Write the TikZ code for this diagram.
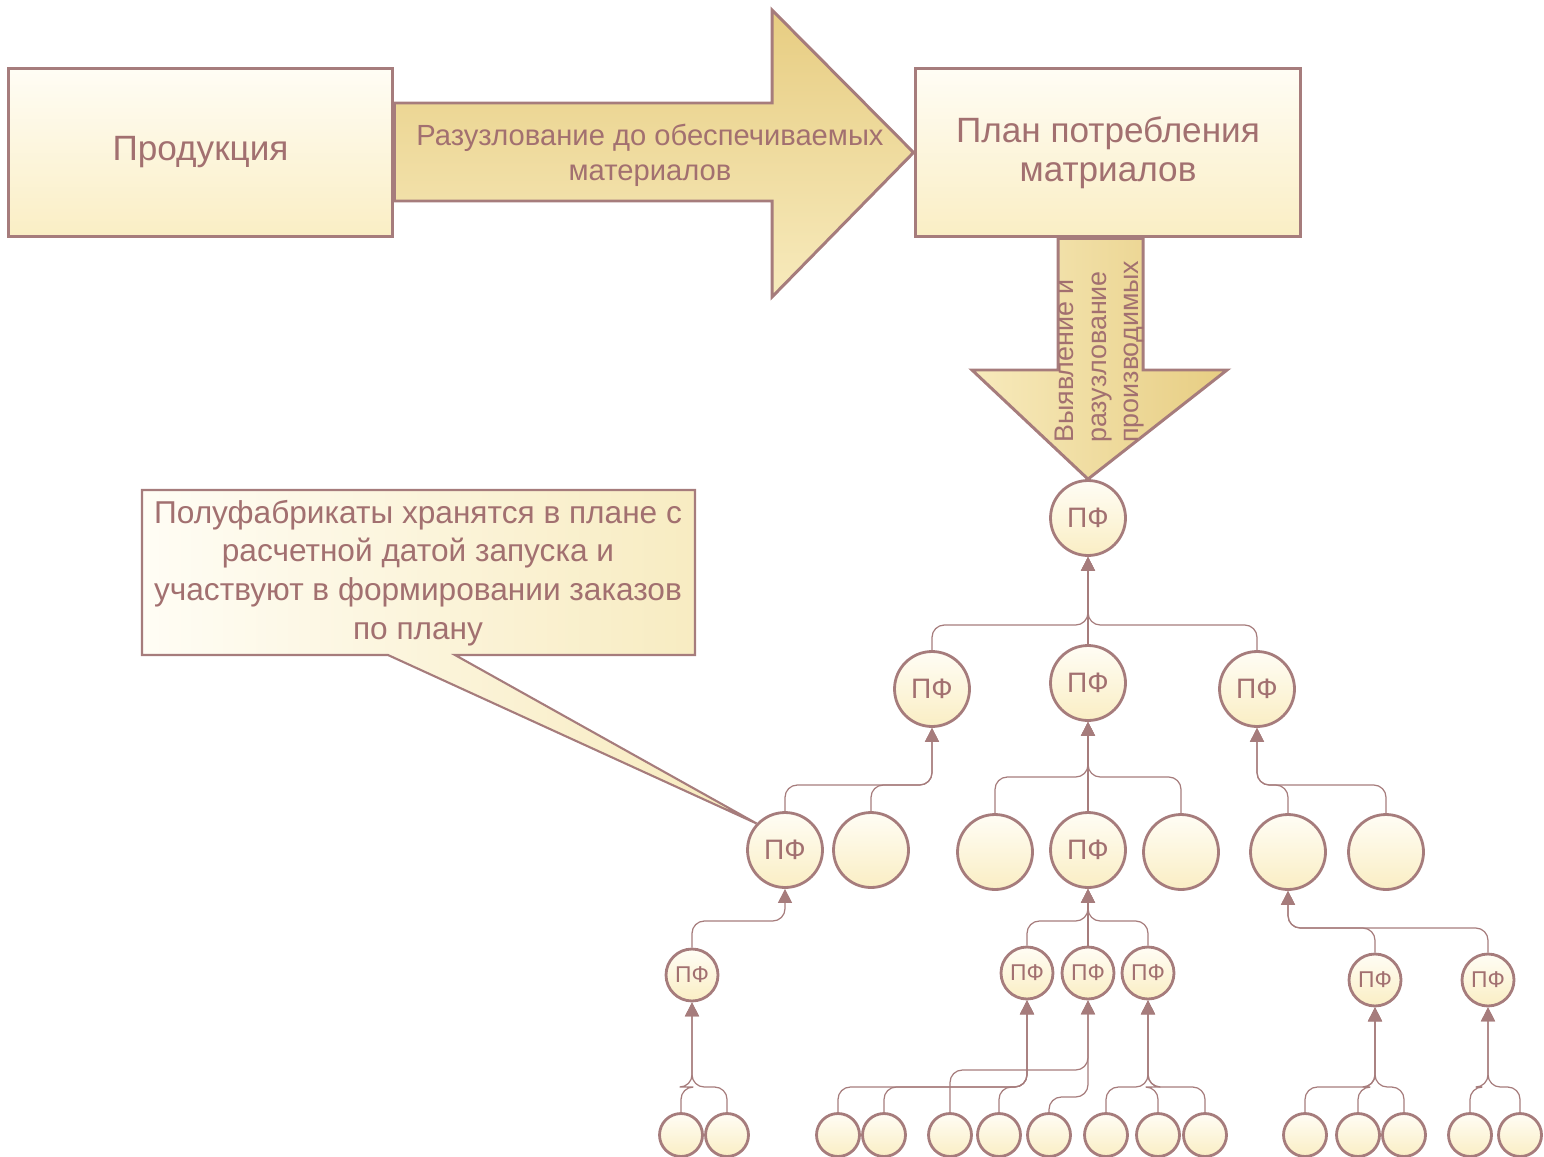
\documentclass[tikz,border=0pt]{standalone}
\usepackage{fontspec}
\setmainfont{Liberation Sans}
\usetikzlibrary{arrows.meta}

\definecolor{edge}{RGB}{166,124,124}
\definecolor{ink}{RGB}{162,112,112}
\definecolor{paper light}{RGB}{255,253,245}
\definecolor{paper deep}{RGB}{250,238,196}
\definecolor{gold light}{RGB}{247,234,188}
\definecolor{gold deep}{RGB}{231,205,130}

\tikzset{box/.style={draw=edge, line width=1.7pt, top color=paper light, bottom color=paper deep,
        minimum width=7.7cm, minimum height=3.38cm, text=ink, align=center,
        font=\fontsize{20}{24}\selectfont},
    fat arrow/.style={draw=edge, line width=1.7pt},
    pf/.style={circle, draw=edge, line width=1.6pt, top color=paper light, bottom color=paper deep,
        text=ink, inner sep=0pt, minimum size=1.5cm, font=\fontsize{16}{16}\selectfont},
    small pf/.style={pf, minimum size=1.04cm, font=\fontsize{13}{13}\selectfont},
    leaf/.style={pf, minimum size=0.86cm},
    label text/.style={text=ink, align=center},
    link/.style={draw=edge, line width=0.7pt, rounded corners=7pt,
        -{Triangle[width=8pt,length=8pt]}}}

% child -> parent, bend level
\newcommand\feed[3]{\draw[link] (#1.north) |- (#2.south |- 0,#3) -- (#2.south);}

\begin{document}
\begin{tikzpicture}[x=0.02cm, y=-0.02cm]
    \useasboundingbox (0,0) rectangle (1544,1156);

    \node[box] (prod) at (200.5,152.5) {\raisebox{-2pt}{Продукция}};
    \node[box, minimum width=7.72cm] (plan) at (1108,152.5) {\raisebox{-2pt}{План потребления}\\матриалов};

    \draw[fat arrow, top color=gold deep, bottom color=gold light]
        (prod.east |- 0,103) -- (772,103) -- (772,10) -- (plan.west)
        -- (772,297) -- (772,201) -- (prod.east |- 0,201) -- cycle;
    \node[label text, font=\fontsize{16.6}{20}\selectfont] (split) at (650,155)
        {Разузлование до обеспечиваемых\\материалов};

    % tree
    \node[pf] (top) at (1088,518) {ПФ};
    \node[pf] (a) at (932,689) {ПФ};
    \node[pf] (b) at (1088,683) {ПФ};
    \node[pf] (c) at (1257,689) {ПФ};

    \node[pf] (a1) at (785,850) {ПФ};
    \node[pf] (a2) at (871,850) {};
    \node[pf] (b1) at (995,852) {};
    \node[pf] (b2) at (1088,850) {ПФ};
    \node[pf] (b3) at (1181,852) {};
    \node[pf] (c1) at (1288,852) {};
    \node[pf] (c2) at (1386,852) {};

    \node[small pf] (a11) at (692,975) {ПФ};
    \node[small pf] (b21) at (1027,973) {ПФ};
    \node[small pf] (b22) at (1088,973) {ПФ};
    \node[small pf] (b23) at (1148,973) {ПФ};
    \node[small pf] (c11) at (1375,980) {ПФ};
    \node[small pf] (c12) at (1488,980) {ПФ};

    \foreach \x/\n in {681/l1, 727/l2, 838/l3, 884/l4, 950/l5, 999/l6, 1049/l7,
        1106/l8, 1158/l9, 1205/l10, 1305/l11, 1358/l12, 1404/l13, 1470/l14, 1520/l15}
        \node[leaf] (\n) at (\x,1135) {};

    \draw[fat arrow, left color=gold light, right color=gold deep]
        (1058,0 |- plan.south) -- (1143,0 |- plan.south) -- (1143,370) -- (1227,370)
        -- (top.north) -- (972,370) -- (1058,370) -- cycle;
    \node[label text, rotate=90, anchor=west, align=left, font=\fontsize{15.3}{18.5}\selectfont]
        (find) at (1100,449) {Выявление и\\разузлование\\производимых};

    \foreach \kid/\dad/\lvl in {a/top/625, b/top/625, c/top/625,
        a1/a/785, a2/a/785, b1/b/777, b2/b/777, b3/b/777, c1/c/785, c2/c/785,
        a11/a1/921, b21/b2/921, b22/b2/921, b23/b2/921, c11/c1/928, c12/c1/928,
        l1/a11/1087, l2/a11/1087, l3/b21/1087, l4/b21/1087, l6/b21/1087,
        l5/b22/1070, l7/b22/1097, l8/b23/1087, l9/b23/1087, l10/b23/1087,
        l11/c11/1087, l12/c11/1087, l13/c11/1087, l14/c12/1087, l15/c12/1087}
        {\feed{\kid}{\dad}{\lvl}}

    % callout
    \draw[draw=edge, line width=1.2pt, left color=paper light, right color=gold light]
        (142,490) -- (695,490) -- (695,655) -- (455,655) -- (a1.137)
        -- (388,655) -- (142,655) -- cycle;
    \node[label text, font=\fontsize{18}{22}\selectfont] (note) at (418,573)
        {Полуфабрикаты хранятся в плане с\\расчетной датой запуска и\\участвуют в формировании заказов\\по плану};
\end{tikzpicture}
\end{document}
